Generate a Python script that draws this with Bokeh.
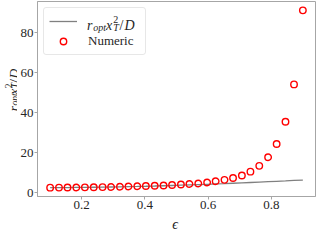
import math
from bokeh.plotting import figure
from bokeh.layouts import row, column
from bokeh.models import Range1d, Label, Legend, LegendItem, FixedTicker
from bokeh.core.properties import value
from bokeh.embed import file_html
from bokeh.resources import INLINE

# ---- data ----
eps = [0.100, 0.128, 0.155, 0.183, 0.210, 0.238, 0.266, 0.293, 0.321, 0.348,
       0.376, 0.403, 0.431, 0.459, 0.486, 0.514, 0.541, 0.569, 0.597, 0.624,
       0.652, 0.679, 0.707, 0.734, 0.762, 0.790, 0.817, 0.845, 0.872, 0.900]
theory = [2.60, 2.62, 2.65, 2.69, 2.74, 2.80, 2.86, 2.93, 3.01, 3.10,
          3.20, 3.30, 3.42, 3.55, 3.68, 3.82, 3.97, 4.12, 4.28, 4.45,
          4.62, 4.80, 4.98, 5.17, 5.36, 5.56, 5.76, 5.97, 6.18, 6.40]
numeric = [2.60, 2.62, 2.65, 2.70, 2.75, 2.80, 2.87, 2.95, 3.05, 3.15,
           3.27, 3.40, 3.55, 3.70, 3.92, 4.15, 4.40, 4.70, 5.20, 5.80,
           6.50, 7.40, 8.70, 10.6, 13.5, 17.8, 24.4, 35.5, 54.2, 91.2]
x_ticks = [0.2, 0.4, 0.6, 0.8]
y_ticks = [0, 20, 40, 60, 80]
numeric_label = "Numeric"
x_label = "\u03f5"

# ---- layout ----
TOTAL_W, TOTAL_H = 316, 231
LFW = 17                     # strip for the y label
HBF = 15                     # strip for the x label
W, H = TOTAL_W - LFW, TOTAL_H - HBF
BL, BR, BT, BB = 17, 1, 1, 20
X0, X1 = 0.06, 0.94
Y0, Y1 = -1.83, 95.63
FW, FH = W - BL - BR, H - BT - BB
PX = (X1 - X0) / FW
PY = (Y1 - Y0) / FH

def dx(cx):
    return X0 + (cx - BL) * PX

def dy(cy):
    return Y1 - (cy - BT) * PY

SERIF = "Liberation Serif"
TXT = "#262626"
SPINE = "#a6a6a6"

p = figure(width=W, height=H, x_range=Range1d(X0, X1), y_range=Range1d(Y0, Y1),
           output_backend="svg", toolbar_location=None,
           min_border_left=BL, min_border_right=BR, min_border_top=BT, min_border_bottom=BB)
p.background_fill_color = "white"
p.border_fill_color = "white"
p.outline_line_color = SPINE
p.outline_line_width = 1
p.xgrid.visible = False
p.ygrid.visible = False

for ax in (p.xaxis[0], p.yaxis[0]):
    ax.axis_line_color = SPINE
    ax.major_tick_line_color = SPINE
    ax.major_tick_out = 3
    ax.major_tick_in = 0
    ax.minor_tick_line_color = None
    ax.major_label_text_font = SERIF
    ax.major_label_text_font_size = "13px"
    ax.major_label_text_color = TXT
p.xaxis.ticker = FixedTicker(ticks=x_ticks)
p.yaxis.ticker = FixedTicker(ticks=y_ticks)
p.xaxis.major_label_standoff = 1
p.yaxis.major_label_standoff = 1

line_r = p.line(eps, theory, line_color="#808080", line_width=1.3)
pts_r = p.scatter(eps, numeric, marker="circle", size=6.5, fill_color=None,
                  line_color="#ff0000", line_width=1.4)

legend = Legend(items=[LegendItem(label=value(" "), renderers=[line_r]),
                       LegendItem(label=value(numeric_label), renderers=[pts_r])],
                location="top_left")
legend.margin = 6
legend.padding = 5
legend.spacing = 4
legend.glyph_width = 28
legend.glyph_height = 16
legend.label_standoff = 11
legend.label_width = 52
legend.label_height = 16
legend.label_text_font = SERIF
legend.label_text_font_size = "13px"
legend.label_text_color = TXT
legend.border_line_color = "#d0d0d0"
legend.border_line_width = 1
legend.background_fill_alpha = 0.0
legend.border_radius = 3
p.add_layout(legend)

def blank(width, height):
    f = figure(width=width, height=height, x_range=Range1d(0, width), y_range=Range1d(height, 0),
               output_backend="svg", toolbar_location=None, x_axis_type=None, y_axis_type=None,
               min_border=0)
    f.outline_line_color = None
    f.xgrid.visible = False
    f.ygrid.visible = False
    f.background_fill_color = "white"
    f.border_fill_color = "white"
    return f

lf = blank(LFW, H)
bf = blank(TOTAL_W, HBF)

def piece(fig, text, x, y, size, italic=True, angle=0.0, align="left", baseline="alphabetic"):
    fig.add_layout(Label(x=x, y=y, text=text, angle=angle,
                         text_font=SERIF, text_font_size=f"{size}px",
                         text_font_style="italic" if italic else "normal",
                         text_color=TXT, text_align=align, text_baseline=baseline))

# composed math label: r_opt x_T^2 / D
def math_pieces(main, sub):
    return [
        ("r", main, True, 0, 0.389 * main + 1),
        ("opt", sub, True, 1, 1.278 * sub),
        ("x", main, True, 0, 0.444 * main + 1),
        ("T", sub, True, 1, 0.0),
        ("2", sub, False, 2, 0.556 * sub + 1),
        ("/", main, False, 0, 0.278 * main + 1),
        ("D", main, True, 0, 0.722 * main),
    ]

# y-axis label (rotated, reading upward) in the left strip
ymain, ysub = 13.5, 9.5
yp = math_pieces(ymain, ysub)
total = sum(a for *_, a in yp)
base_x = 12.5
cy = BT + FH / 2 + total / 2
for t, s, it, sh, adv in yp:
    off = {0: 0, 1: 0.13 * ymain, 2: -0.3 * ymain}[sh]
    piece(lf, t, base_x + off, cy, s, it, angle=math.pi / 2)
    cy -= adv

# legend entry label (inside the plot frame)
lmain, lsub = 14, 10
lp = math_pieces(lmain, lsub)
lx = BL + 6 + 5 + 28 + 11
lbase = BT + 6 + 5 + 8 + 4.5
for t, s, it, sh, adv in lp:
    off = {0: 0, 1: 0.2 * lmain, 2: -0.4 * lmain}[sh]
    piece(p, t, dx(lx), dy(lbase + off), s, it)
    lx += adv

# x-axis label in the bottom strip
piece(bf, x_label, LFW + BL + FW / 2, HBF / 2, 14, True, align="center", baseline="middle")

layout = column(row(lf, p, spacing=0), bf, spacing=0)
open("out.html", "w").write(file_html(layout, INLINE))
